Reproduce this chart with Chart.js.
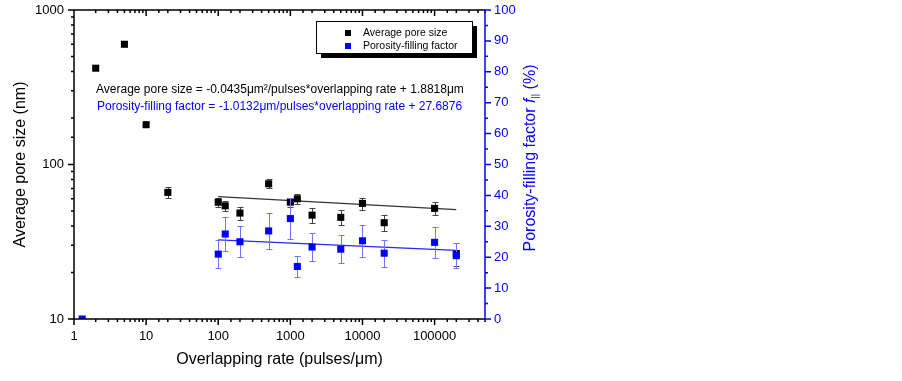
<!DOCTYPE html>
<html>
<head>
<meta charset="utf-8">
<script src="https://cdn.jsdelivr.net/npm/chart.js@4.4.0/dist/chart.umd.min.js"></script>
<style>
  html, body { margin: 0; padding: 0; background: #fff; }
  #wrap { width: 902px; height: 381px; }
</style>
</head>
<body>
<div id="wrap"><canvas id="poreChart" width="902" height="381"></canvas></div>
<script>
// Average pore size (nm) vs overlapping rate (pulses/um)
const rateAvg = [2, 5, 10, 20, 100, 125, 200, 500, 1000, 1250, 2000, 5000, 10000, 20000, 100000, 200000];
const poreSize = [420, 600, 181, 66, 57, 54, 48.5, 75, 57, 60, 47, 45.5, 56, 42, 52, 26.5];
const poreErr = [0, 0, 0, 5, 4, 4, 4.5, 5, 4, 4.5, 5, 5, 5, 5, 5, 4.5];

// Porosity-filling factor (%) on the right axis
const rateFill = [1.3, 100, 125, 200, 500, 1000, 1250, 2000, 5000, 10000, 20000, 100000, 200000];
const fillFactor = [0, 21, 27.5, 25, 28.5, 32.5, 17, 23.3, 22.6, 25.3, 21.3, 24.8, 20.5];
const fillErr = [0, 4.5, 5.5, 5, 5.7, 6.5, 3.4, 4.6, 4.5, 5.1, 4.4, 4.9, 4];

// linear fits, drawn between their end points
const fitRate = [100, 200000];
const poreFit = [62, 51];
const fillFit = [25.6, 22.2];

// axis labels
const xTickLabels = [1, 10, 100, 1000, 10000, 100000];
const yTickLabels = [10, 100, 1000];

const FONT = '"Liberation Sans", Arial, sans-serif';
const BLUE = '#0000ff';

function pts(xs, ys) {
    return xs.map((x, i) => ({ x: x, y: ys[i] }));
}

function isDecade(v) {
    const l = Math.log10(v);
    return Math.abs(l - Math.round(l)) < 1e-9;
}

// error bars drawn under each dataset's own markers
const errorBars = {
    id: 'errorBars',
    beforeDatasetDraw(chart, args) {
        const ds = chart.data.datasets[args.index];
        if (!ds.errors) return;
        const ctx = chart.ctx;
        const yScale = chart.scales[ds.yAxisID];
        ctx.save();
        ctx.strokeStyle = ds.errorColor;
        ctx.lineWidth = 1;
        args.meta.data.forEach((pt, i) => {
            const e = ds.errors[i];
            if (!e) return;
            const v = ds.data[i].y;
            const top = Math.round(yScale.getPixelForValue(v + e)) + 0.5;
            const bot = Math.round(yScale.getPixelForValue(v - e)) + 0.5;
            const x = Math.round(pt.x) + 0.5;
            ctx.beginPath();
            ctx.moveTo(x, top); ctx.lineTo(x, bot);
            ctx.moveTo(x - 3, top); ctx.lineTo(x + 3, top);
            ctx.moveTo(x - 3, bot); ctx.lineTo(x + 3, bot);
            ctx.stroke();
        });
        ctx.restore();
    }
};

// Origin style frame: outward ticks left/bottom/right, inward on top
const frame = {
    id: 'frame',
    afterDatasetsDraw(chart) {
        const { ctx, chartArea: a, scales } = chart;
        ctx.save();
        ctx.lineWidth = 1.5;
        ctx.strokeStyle = '#000';
        ctx.beginPath();
        scales.x.ticks.forEach(t => {
            const len = isDecade(t.value) ? 6 : 3;
            const px = scales.x.getPixelForValue(t.value);
            ctx.moveTo(px, a.bottom); ctx.lineTo(px, a.bottom + len);
            ctx.moveTo(px, a.top); ctx.lineTo(px, a.top + len);
        });
        scales.y.ticks.forEach(t => {
            const len = isDecade(t.value) ? 6 : 3;
            const py = scales.y.getPixelForValue(t.value);
            ctx.moveTo(a.left, py); ctx.lineTo(a.left - len, py);
        });
        ctx.moveTo(a.left, a.top); ctx.lineTo(a.right, a.top);
        ctx.moveTo(a.left - 0.75, a.bottom); ctx.lineTo(a.right, a.bottom);
        ctx.moveTo(a.left, a.top); ctx.lineTo(a.left, a.bottom);
        ctx.stroke();

        ctx.strokeStyle = BLUE;
        ctx.beginPath();
        ctx.moveTo(a.right, a.top); ctx.lineTo(a.right, a.bottom);
        const rt = scales.y2.ticks;
        rt.forEach((t, i) => {
            const py = scales.y2.getPixelForValue(t.value);
            ctx.moveTo(a.right, py); ctx.lineTo(a.right + 6, py);
            if (i < rt.length - 1) {
                const pm = scales.y2.getPixelForValue((t.value + rt[i + 1].value) / 2);
                ctx.moveTo(a.right, pm); ctx.lineTo(a.right + 3, pm);
            }
        });
        ctx.stroke();
        ctx.restore();
    }
};

function rotatedText(ctx, x, y, draw) {
    ctx.save();
    ctx.translate(x, y);
    ctx.rotate(-Math.PI / 2);
    draw();
    ctx.restore();
}

// titles, fit equations and the boxed legend
const labels = {
    id: 'labels',
    afterDraw(chart) {
        const { ctx, chartArea: a } = chart;
        ctx.save();
        ctx.textBaseline = 'alphabetic';

        // bottom title
        ctx.fillStyle = '#000';
        ctx.font = '16px ' + FONT;
        ctx.textAlign = 'center';
        ctx.fillText('Overlapping rate (pulses/\u03bcm)', (a.left + a.right) / 2, 364);

        // left title
        rotatedText(ctx, 25, (a.top + a.bottom) / 2, () => {
            ctx.textAlign = 'center';
            ctx.fillText('Average pore size (nm)', 0, 0);
        });

        // right title with italic f and subscript
        ctx.fillStyle = BLUE;
        rotatedText(ctx, 534.5, 158, () => {
            const parts = [
                { t: 'Porosity-filling factor ', f: '16px ' + FONT, dy: 0 },
                { t: 'f', f: 'italic 16px ' + FONT, dy: 0 },
                { t: '||', f: '9px ' + FONT, dy: 3 },
                { t: ' (%)', f: '16px ' + FONT, dy: 0 }
            ];
            let w = 0;
            parts.forEach(p => { ctx.font = p.f; p.w = ctx.measureText(p.t).width; w += p.w; });
            let x = -w / 2;
            ctx.textAlign = 'left';
            parts.forEach(p => { ctx.font = p.f; ctx.fillText(p.t, x, p.dy); x += p.w; });
        });

        // fit equations
        ctx.textAlign = 'left';
        ctx.textBaseline = 'middle';
        ctx.font = '12px ' + FONT;
        ctx.fillStyle = '#000';
        ctx.fillText('Average pore size = -0.0435\u03bcm\u00b2/pulses*overlapping rate + 1.8818\u03bcm', 96, 90);
        ctx.fillStyle = BLUE;
        ctx.fillText('Porosity-filling factor = -1.0132\u03bcm/pulses*overlapping rate + 27.6876', 97, 107);

        // legend box with drop shadow
        const lx = 316, ly = 21, lw = 156, lh = 32;
        ctx.fillStyle = '#000';
        ctx.fillRect(lx + 5, ly + 5, lw, lh);
        ctx.fillStyle = '#fff';
        ctx.fillRect(lx, ly, lw, lh);
        ctx.strokeStyle = '#000';
        ctx.lineWidth = 1;
        ctx.strokeRect(lx + 0.5, ly + 0.5, lw, lh);
        ctx.font = '10.5px ' + FONT;
        ctx.fillStyle = '#000';
        ctx.fillRect(345, 30, 6, 6);
        ctx.fillText('Average pore size', 363, 33);
        ctx.fillStyle = BLUE;
        ctx.fillRect(345, 43, 6, 6);
        ctx.fillStyle = '#000';
        ctx.fillText('Porosity-filling factor', 363, 46);
        ctx.restore();
    }
};

new Chart(document.getElementById('poreChart').getContext('2d'), {
    type: 'scatter',
    data: {
        datasets: [
            {
                label: 'Porosity-filling factor',
                data: pts(rateFill, fillFactor),
                yAxisID: 'y2',
                pointStyle: 'rect',
                pointRadius: 5,
                backgroundColor: BLUE,
                borderColor: BLUE,
                borderWidth: 0,
                errors: fillErr,
                errorColor: '#7373ff'
            },
            {
                label: 'Porosity fit',
                type: 'line',
                data: pts(fitRate, fillFit),
                yAxisID: 'y2',
                borderColor: '#2626ff',
                borderWidth: 1.2,
                pointRadius: 0,
                fill: false
            },
            {
                label: 'Average pore size',
                data: pts(rateAvg, poreSize),
                yAxisID: 'y',
                pointStyle: 'rect',
                pointRadius: 5,
                backgroundColor: '#000',
                borderColor: '#000',
                borderWidth: 0,
                errors: poreErr,
                errorColor: '#444'
            },
            {
                label: 'Pore size fit',
                type: 'line',
                data: pts(fitRate, poreFit),
                yAxisID: 'y',
                borderColor: '#333',
                borderWidth: 1.2,
                pointRadius: 0,
                fill: false
            }
        ]
    },
    options: {
        responsive: false,
        animation: false,
        layout: { padding: { top: 10, left: 0, right: 0, bottom: 0 } },
        plugins: {
            legend: { display: false },
            tooltip: { enabled: false }
        },
        scales: {
            x: {
                type: 'logarithmic',
                position: 'bottom',
                min: 1,
                max: 500000,
                grid: { display: false, drawTicks: false },
                border: { display: false },
                ticks: {
                    autoSkip: false,
                    maxRotation: 0,
                    padding: 10,
                    color: '#000',
                    font: { family: FONT, size: 13 },
                    callback: v => xTickLabels.includes(v) ? String(v) : ''
                },
                afterFit: s => { s.height = 62; s.paddingLeft = 0; s.paddingRight = 0; }
            },
            y: {
                type: 'logarithmic',
                position: 'left',
                min: 10,
                max: 1000,
                grid: { display: false, drawTicks: false },
                border: { display: false },
                ticks: {
                    autoSkip: false,
                    padding: 10,
                    color: '#000',
                    font: { family: FONT, size: 13 },
                    callback: v => yTickLabels.includes(v) ? String(v) : ''
                },
                afterFit: s => { s.width = 74; s.paddingTop = 0; s.paddingBottom = 0; }
            },
            y2: {
                type: 'linear',
                position: 'right',
                min: 0,
                max: 100,
                grid: { display: false, drawTicks: false },
                border: { display: false },
                ticks: {
                    stepSize: 10,
                    padding: 9,
                    color: BLUE,
                    font: { family: FONT, size: 13 }
                },
                afterFit: s => { s.width = 417; s.paddingTop = 0; s.paddingBottom = 0; }
            }
        }
    },
    plugins: [errorBars, frame, labels]
});
</script>
</body>
</html>
